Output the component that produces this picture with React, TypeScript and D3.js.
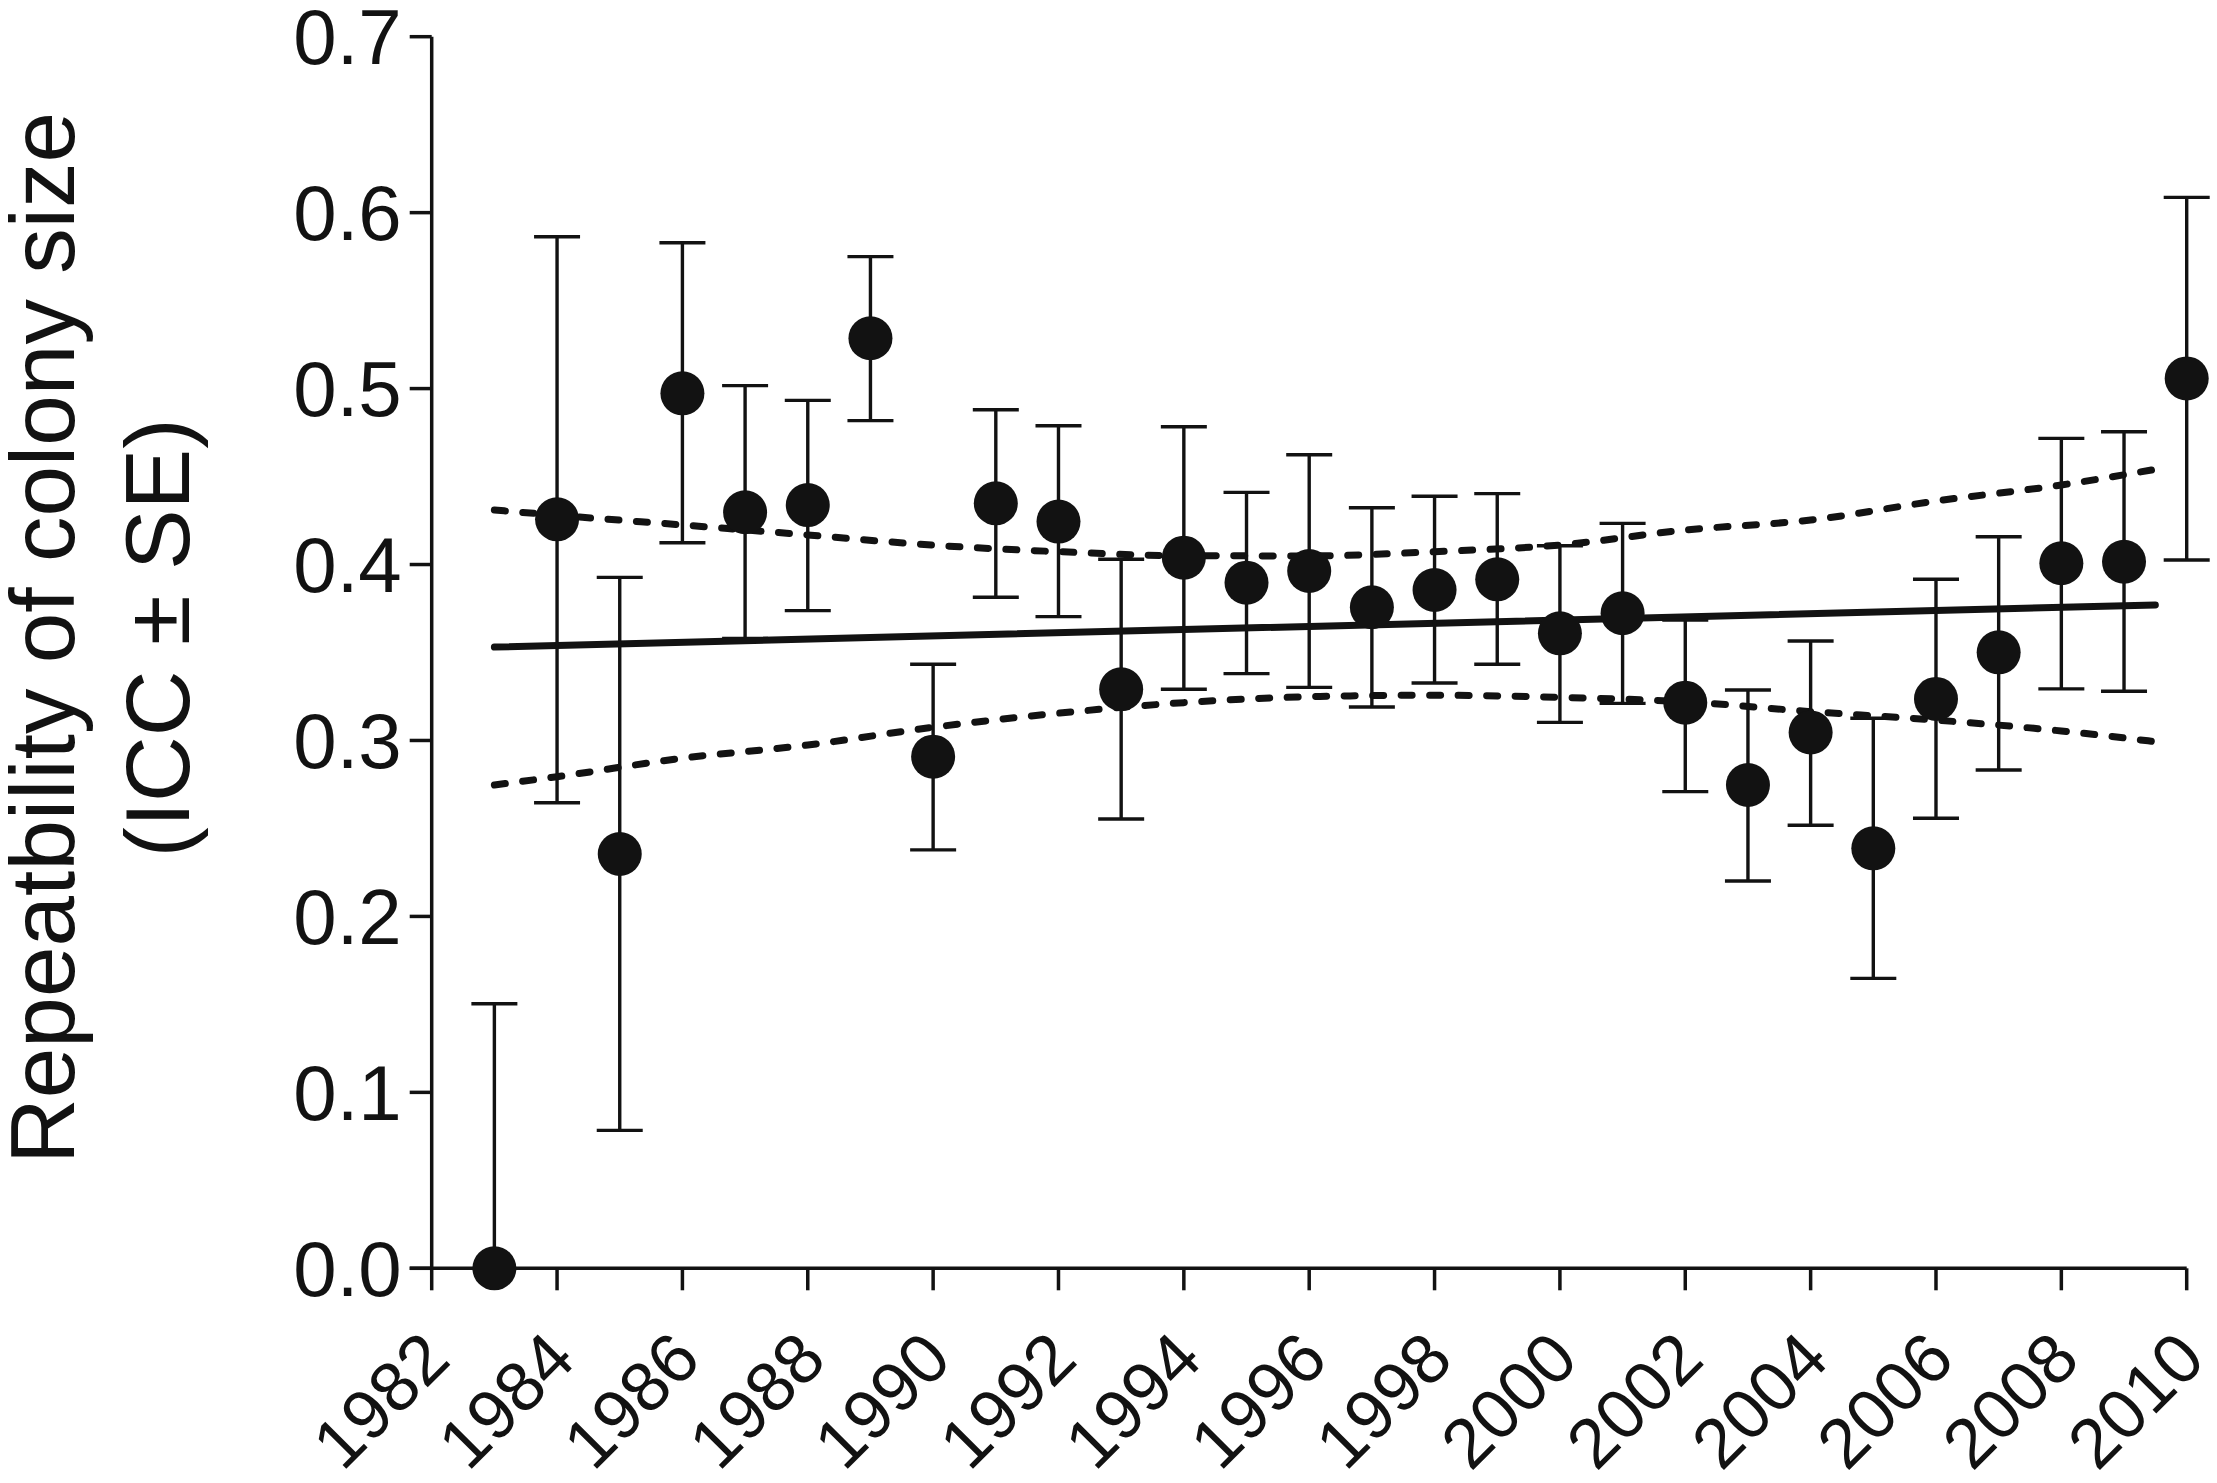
import React from "react";
import * as d3 from "d3";

// ---- data ----
const years = [
  1983, 1984, 1985, 1986, 1987, 1988, 1989, 1990, 1991, 1992, 1993, 1994, 1995, 1996,
  1997, 1998, 1999, 2000, 2001, 2002, 2003, 2004, 2005, 2006, 2007, 2008, 2009, 2010,
];
const icc = [
  0.0, 0.4257, 0.2355, 0.4973, 0.4297, 0.4338, 0.5286, 0.2908, 0.4348, 0.4244, 0.3291,
  0.4039, 0.3897, 0.3963, 0.3757, 0.3855, 0.3916, 0.3609, 0.3723, 0.3215, 0.2747, 0.3046,
  0.2387, 0.3236, 0.3501, 0.4007, 0.4016, 0.5058,
];
const seUpper = [
  0.1504, 0.5863, 0.3927, 0.5829, 0.5017, 0.4933, 0.575, 0.3433, 0.488, 0.4789, 0.403,
  0.4783, 0.441, 0.4624, 0.4323, 0.4388, 0.4403, 0.4107, 0.4234, 0.3685, 0.3287, 0.3565,
  0.3126, 0.3916, 0.4158, 0.4717, 0.4755, 0.6087,
];
const seLower = [
  0.0, 0.2646, 0.0784, 0.4124, 0.358, 0.3738, 0.4818, 0.2378, 0.3814, 0.3704, 0.2554,
  0.3291, 0.338, 0.3302, 0.319, 0.3327, 0.3433, 0.3103, 0.3211, 0.2709, 0.2201, 0.2518,
  0.1648, 0.2558, 0.2832, 0.3293, 0.328, 0.4026,
];

const fitYears = [1983, 2009.5];
const fitValues = [0.3531, 0.377];

const bandYears = [1983, 1984, 1986, 1988, 1990, 1992, 1994, 1996, 1998, 2000, 2002, 2004, 2006, 2008, 2009.5];
const bandUpper = [0.431, 0.428, 0.4225, 0.4168, 0.411, 0.4073, 0.405, 0.4049, 0.4073, 0.4111, 0.4196, 0.4253, 0.4361, 0.4452, 0.4541];
const bandLower = [0.2747, 0.2794, 0.2899, 0.2974, 0.3075, 0.3155, 0.3215, 0.3249, 0.3257, 0.3245, 0.322, 0.3164, 0.3116, 0.3054, 0.2993];

const xTickValues = [1982, 1984, 1986, 1988, 1990, 1992, 1994, 1996, 1998, 2000, 2002, 2004, 2006, 2008, 2010];
const yTickValues = [0, 0.1, 0.2, 0.3, 0.4, 0.5, 0.6, 0.7];
const yTickLabels = ["0.0", "0.1", "0.2", "0.3", "0.4", "0.5", "0.6", "0.7"];

const titleLine1 = "Repeatbility of colony size";
const titleLine2 = "(ICC \u00b1 SE)";

// ---- layout ----
const W = 2217;
const H = 1483;
const INK = "#121212";
const FONT = "'Liberation Sans', Arial, Helvetica, sans-serif";

export default function App() {
  const x = d3.scaleLinear().domain([1982, 2010]).range([431.7, 2186.7]);
  const y = d3.scaleLinear().domain([0, 0.7]).range([1268.3, 36.7]);

  const x0 = x(1982);
  const y0 = y(0);
  const tickLen = 22;
  const capHalf = 23;

  const line = d3
    .line<[number, number]>()
    .x((d) => x(d[0]))
    .y((d) => y(d[1]))
    .curve(d3.curveMonotoneX);

  const fitPath = line(fitYears.map((yr, i) => [yr, fitValues[i]] as [number, number])) || "";
  const upperPath = line(bandYears.map((yr, i) => [yr, bandUpper[i]] as [number, number])) || "";
  const lowerPath = line(bandYears.map((yr, i) => [yr, bandLower[i]] as [number, number])) || "";

  return (
    <svg
      width={W}
      height={H}
      viewBox={`0 0 ${W} ${H}`}
      style={{ position: "absolute", left: 0, top: 0, background: "#fff" }}
    >
      <rect x={0} y={0} width={W} height={H} fill="#fff" />

      {/* axes */}
      <g stroke={INK} strokeWidth={3.5} fill="none">
        <line x1={x0} y1={y(0.7)} x2={x0} y2={y0} />
        <line x1={x0 - tickLen} y1={y0} x2={x(2010)} y2={y0} />
        {yTickValues.map((v) => (
          <line key={"yt" + v} x1={x0 - tickLen} y1={y(v)} x2={x0} y2={y(v)} />
        ))}
        {xTickValues.map((v) => (
          <line key={"xt" + v} x1={x(v)} y1={y0} x2={x(v)} y2={y0 + tickLen} />
        ))}
      </g>

      {/* y tick labels */}
      <g fontFamily={FONT} fontSize={78} fill={INK} textAnchor="end">
        {yTickValues.map((v, i) => (
          <text key={"yl" + v} x={x0 - tickLen - 8} y={y(v)} dy="0.35em">
            {yTickLabels[i]}
          </text>
        ))}
      </g>

      {/* x tick labels */}
      <g fontFamily={FONT} fontSize={70} fill={INK} textAnchor="end">
        {xTickValues.map((v) => {
          const ax = x(v) + 21;
          const ay = y0 + 94;
          return (
            <text key={"xl" + v} x={ax} y={ay} transform={`rotate(-45 ${ax} ${ay})`}>
              {String(v)}
            </text>
          );
        })}
      </g>

      {/* y axis title */}
      <g fontFamily={FONT} fontSize={91} fill={INK} textAnchor="middle">
        <text x={74} y={638} transform={`rotate(-90 74 638)`}>
          {titleLine1}
        </text>
        <text x={189} y={638} transform={`rotate(-90 189 638)`}>
          {titleLine2}
        </text>
      </g>

      {/* regression line and confidence band */}
      <path d={fitPath} fill="none" stroke={INK} strokeWidth={7} strokeLinecap="round" />
      <path
        d={upperPath}
        fill="none"
        stroke={INK}
        strokeWidth={7}
        strokeLinecap="round"
        strokeDasharray="11 17.5"
      />
      <path
        d={lowerPath}
        fill="none"
        stroke={INK}
        strokeWidth={7}
        strokeLinecap="round"
        strokeDasharray="11 17.5"
      />

      {/* error bars */}
      <g stroke={INK} strokeWidth={3.4} fill="none">
        {years.map((yr, i) => {
          const cx = x(yr);
          return (
            <g key={"eb" + yr}>
              <line x1={cx} y1={y(seLower[i])} x2={cx} y2={y(seUpper[i])} />
              <line x1={cx - capHalf} y1={y(seUpper[i])} x2={cx + capHalf} y2={y(seUpper[i])} />
              {seLower[i] > 0 && (
                <line x1={cx - capHalf} y1={y(seLower[i])} x2={cx + capHalf} y2={y(seLower[i])} />
              )}
            </g>
          );
        })}
      </g>

      {/* points */}
      <g fill={INK}>
        {years.map((yr, i) => (
          <circle key={"pt" + yr} cx={x(yr)} cy={y(icc[i])} r={22} />
        ))}
      </g>
    </svg>
  );
}
